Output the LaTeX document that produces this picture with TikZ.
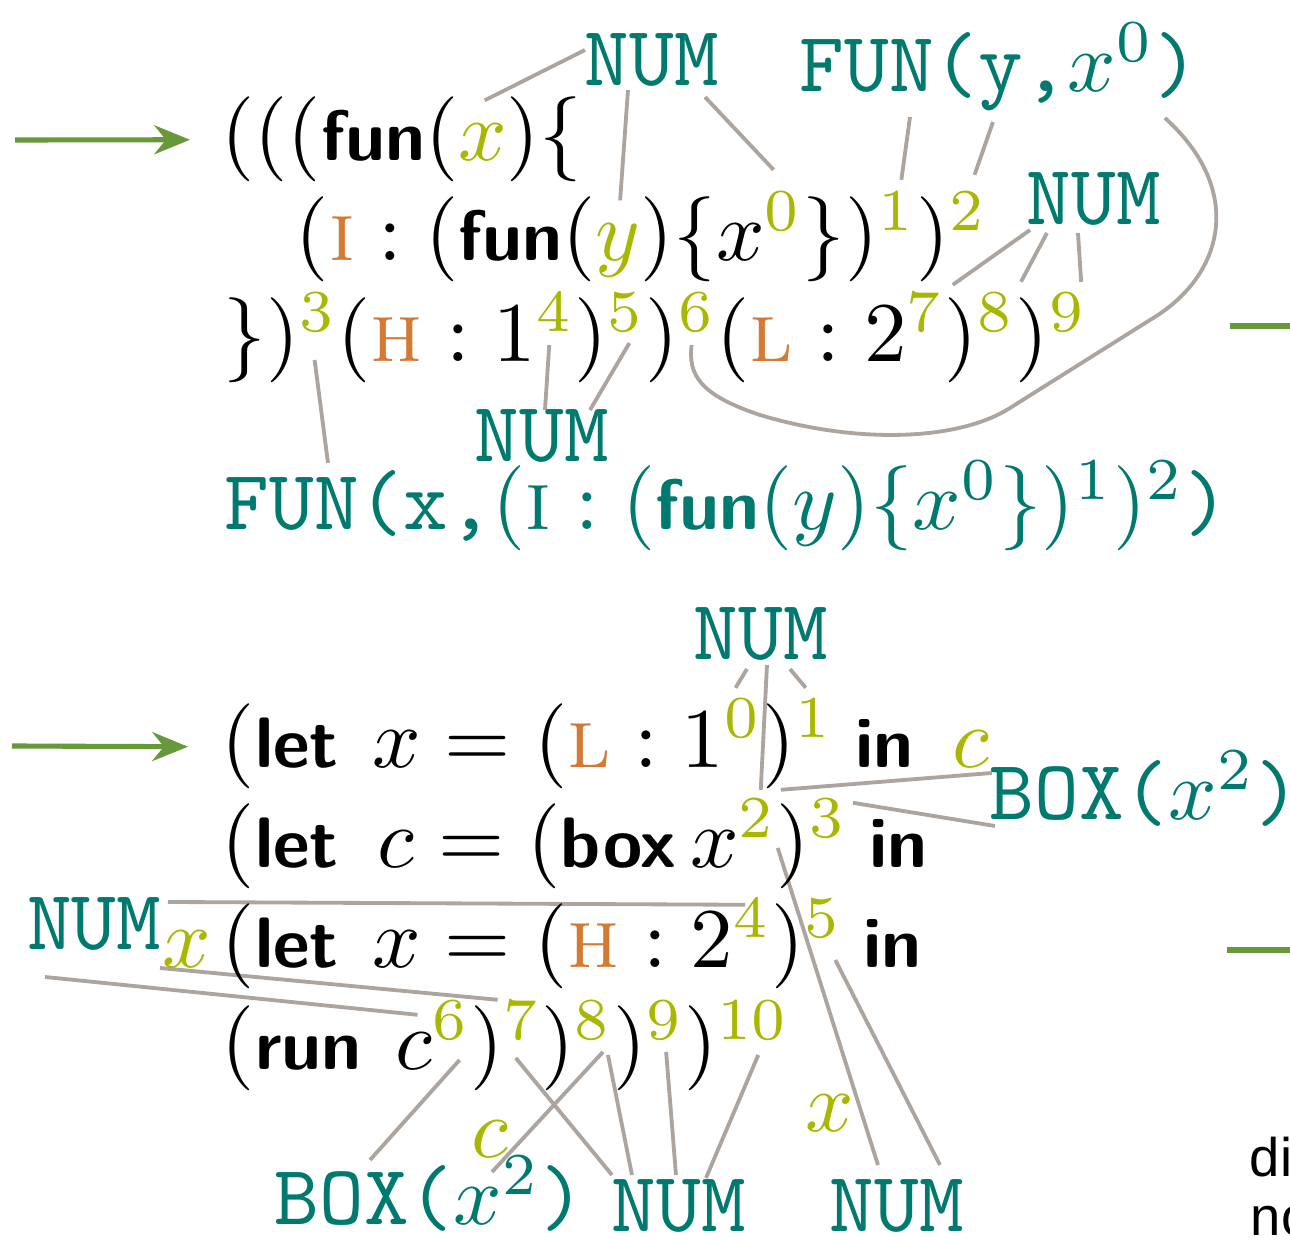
\documentclass[tikz,border=0pt]{standalone}
\usepackage{amsmath}
\usepackage{fontspec}
\newfontfamily\notefont{Liberation Sans}
\usetikzlibrary{arrows.meta,calc}

\definecolor{tl}{RGB}{0,121,110}
\definecolor{olv}{RGB}{168,184,0}
\definecolor{org}{RGB}{212,122,52}
\definecolor{lnk}{RGB}{172,164,159}
\definecolor{grn}{RGB}{103,152,58}

% keyword, small-caps label and coloured label helpers
\newcommand\kw[1]{\mbox{\fontsize{8.4pt}{10pt}\selectfont\sffamily\bfseries #1}}
\newcommand\smc[1]{\mbox{\rmfamily\mdseries\scshape #1}}
\newcommand\org[1]{\textcolor{org}{\smc{#1}}}

\pgfdeclarelayer{links}
\pgfsetlayers{links,main}

\begin{document}
\begin{tikzpicture}[x=0.11765pt,y=-0.11765pt,
  tok/.style={anchor=base west,inner sep=0pt,outer sep=0pt},
  sup/.style={tok,text=olv},
  lbl/.style={tok,text=tl,font=\ttfamily},
  note/.style={tok,font={\notefont\fontsize{6.4pt}{8pt}\selectfont}},
  conn/.style={draw=lnk,line width=0.45pt},
  arr/.style={draw=grn,line width=0.6pt,-{Stealth[length=4.2pt,width=3.4pt]}}]
\useasboundingbox (0,0) rectangle (1290,1242);
\clip (0,0) rectangle (1290,1242);

% ---------- first term ----------
\node[tok] (l1a) at (222,161) {$(((\kw{fun}($};
\node[tok,text=olv] (l1x) at (l1a.base east) {$x$};
\node[tok] (l1b) at (l1x.base east) {$)\{$};

\node[tok] (l2a) at (296,261) {$(\org{i} : (\kw{fun}($};
\node[tok,text=olv] (l2y) at (l2a.base east) {$y$};
\node[tok] (l2b) at (l2y.base east) {$)\{x$};
\node[sup] (l2s0) at (l2b.base east) {${}^{0}$};
\node[tok] (l2c) at (l2s0.base east) {$\})$};
\node[sup] (l2s1) at (l2c.base east) {${}^{1}$};
\node[tok] (l2d) at (l2s1.base east) {$)$};
\node[sup] (l2s2) at (l2d.base east) {${}^{2}$};

\node[tok] (l3a) at (224,362) {$\})$};
\node[sup] (l3s3) at (l3a.base east) {${}^{3}$};
\node[tok] (l3b) at (l3s3.base east) {$(\org{h} : 1$};
\node[sup] (l3s4) at (l3b.base east) {${}^{4}$};
\node[tok] (l3c) at (l3s4.base east) {$)$};
\node[sup] (l3s5) at (l3c.base east) {${}^{5}$};
\node[tok] (l3d) at (l3s5.base east) {$)$};
\node[sup] (l3s6) at (l3d.base east) {${}^{6}$};
\node[tok] (l3e) at (l3s6.base east) {$(\org{l} : 2$};
\node[sup] (l3s7) at (l3e.base east) {${}^{7}$};
\node[tok] (l3f) at (l3s7.base east) {$)$};
\node[sup] (l3s8) at (l3f.base east) {${}^{8}$};
\node[tok] (l3g) at (l3s8.base east) {$)$};
\node[sup] (l3s9) at (l3g.base east) {${}^{9}$};

\node[lbl] (numA) at (585,85) {NUM};
\node[lbl] (funA) at (800,92) {FUN(y,$x^{0}$)};
\node[lbl] (numR) at (1027,225) {NUM};
\node[lbl] (numC) at (475,462) {NUM};
\node[lbl] (funB) at (225,530) {FUN(x,$(\smc{i} : (\kw{fun}(y)\{x^{0}\})^{1})^{2}$)};

% ---------- second term ----------
\node[tok] (lAa) at (222,768) {$(\kw{let}\hspace{4pt}x = (\org{l} : 1$};
\node[sup] (lAs0) at (lAa.base east) {${}^{0}$};
\node[tok] (lAb) at (lAs0.base east) {$)$};
\node[sup] (lAs1) at (lAb.base east) {${}^{1}$};
\node[tok] (lAin) at (lAs1.base east) {\hspace{2.5pt}\kw{in}};
\node[tok,text=olv] (cA) at (953,768) {$c$};

\node[tok] (lBa) at (222,868) {$(\kw{let}\hspace{4.6pt}c = (\kw{box}\,x$};
\node[sup] (lBs2) at (lBa.base east) {${}^{2}$};
\node[tok] (lBb) at (lBs2.base east) {$)$};
\node[sup] (lBs3) at (lBb.base east) {${}^{3}$};
\node[tok] (lBin) at (lBs3.base east) {\hspace{2.5pt}\kw{in}};

\node[tok,text=olv] (lcx) at (163,968) {$x$};
\node[tok] (lCa) at (222,968) {$(\kw{let}\hspace{4pt}x = (\org{h} : 2$};
\node[sup] (lCs4) at (lCa.base east) {${}^{4}$};
\node[tok] (lCb) at (lCs4.base east) {$)$};
\node[sup] (lCs5) at (lCb.base east) {${}^{5}$};
\node[tok] (lCin) at (lCs5.base east) {\hspace{2.5pt}\kw{in}};

\node[tok] (lDa) at (222,1070) {$(\kw{run}\hspace{4pt}c$};
\node[sup] (lDs6) at (lDa.base east) {${}^{6}$};
\node[tok] (lDb) at (lDs6.base east) {$)$};
\node[sup] (lDs7) at (lDb.base east) {${}^{7}$};
\node[tok] (lDc) at (lDs7.base east) {$)$};
\node[sup] (lDs8) at (lDc.base east) {${}^{8}$};
\node[tok] (lDd) at (lDs8.base east) {$)$};
\node[sup] (lDs9) at (lDd.base east) {${}^{9}$};
\node[tok] (lDe) at (lDs9.base east) {$)$};
\node[sup] (lDs10) at (lDe.base east) {${}^{10}$};

\node[lbl] (nB1) at (694,660) {NUM};
\node[lbl] (box1) at (990,820) {BOX($x^{2}$)};
\node[lbl] (nL) at (27,950) {NUM};
\node[lbl] (box2) at (275,1225) {BOX($x^{2}$)};
\node[lbl] (nM) at (612,1232) {NUM};
\node[lbl] (nR) at (830,1232) {NUM};
\node[tok,text=olv] (cB) at (472,1158) {$c$};
\node[tok,text=olv] (xB) at (806,1132) {$x$};

% side notes running off the right edge
\node[note] (nt1) at (1250,1177) {di};
\node[note] (nt2) at (1251,1236) {no};

% ---------- entry arrows ----------
\coordinate (inA) at (15,140);
\draw[arr] (inA) -- ($(l1a.west)+(-32,0)$);
\coordinate (inB) at (12,746);
\draw[arr] (inB) -- ($(lAa.west)+(-34,0)$);
\coordinate (gA) at (1230,326);
\draw[draw=grn,line width=0.6pt] (gA) -- ++(80,0);
\coordinate (gB) at (1227,950);
\draw[draw=grn,line width=0.6pt] (gB) -- ++(80,0);

% ---------- links ----------
\begin{pgfonlayer}{links}
\draw[conn] ($(numA.base west)+(0,-35)$) -- ($(l1x.north)+(2,-24)$);
\draw[conn] ($(numA.base west)+(43,5)$) -- ($(l2y.north)+(2,-24)$);
\draw[conn] ($(numA.base west)+(120,12)$) -- ($(l2s0.north west)+(9,-22)$);
\draw[conn] ($(funA.base west)+(110,25)$) -- ($(l2s1.north)+(4,-12)$);
\draw[conn] ($(funA.base west)+(193,30)$) -- ($(l2s2.north)+(6,-17)$);
\draw[conn] ($(funA.base west)+(365,26)$) .. controls (1245,190) and (1225,276) .. (1150,320)
  -- (1010,408) .. controls (960,440) and (860,445) .. (760,415)
  .. controls (700,395) and (688,375) .. ($(l3s6.south)+(-6,-17)$);
\draw[conn] ($(numR.base west)+(3,5)$) -- ($(l3s7.north east)+(8,-8)$);
\draw[conn] ($(numR.base west)+(20,8)$) -- ($(l3s8.north east)+(5,-11)$);
\draw[conn] ($(numR.base west)+(51,8)$) -- ($(l3s9.north east)+(-6,-11)$);
\draw[conn] ($(l3s3.south)+(-4,-2)$) -- ($(funB.base west)+(103,-67)$);
\draw[conn] ($(l3s4.south)+(-6,-17)$) -- ($(numC.base west)+(70,-52)$);
\draw[conn] ($(l3s5.south)+(3,-19)$) -- ($(numC.base west)+(115,-52)$);

\draw[conn] ($(nB1.base west)+(53,9)$) -- ($(lAs0.north west)+(11,-11)$);
\draw[conn] ($(nB1.base west)+(96,9)$) -- ($(lAs1.north west)+(10,-11)$);
\draw[conn] ($(nB1.base west)+(73,5)$) -- ($(lBs2.north)+(3,-9)$);
\draw[conn] ($(box1.base west)+(2,-47)$) -- ($(lBs2.north east)+(4,-9)$);
\draw[conn] ($(box1.base west)+(5,6)$) -- ($(lBs3.north east)+(5,4)$);
\draw[conn] ($(lBs2.south)+(20,-20)$) -- ($(nR.base west)+(48,-67)$);
\draw[conn] ($(lCs5.south)+(12,-8)$) -- ($(nR.base west)+(110,-67)$);
\draw[conn] ($(nL.base west)+(141,-48)$) -- ($(lCs4.north)+(-7,6)$);
\draw[conn] ($(nL.base west)+(18,27)$) -- ($(lDs6.north west)+(-15,14)$);
\draw[conn] ($(lcx.base west)+(-3,0)$) -- ($(lDs7.north west)+(-6,-1)$);
\draw[conn] ($(lDs6.south)+(8,-10)$) -- ($(box2.base west)+(95,-65)$);
\draw[conn] ($(lDs7.south)+(-7,-12)$) -- ($(nM.base west)+(0,-57)$);
\draw[conn] ($(lDs8.south)+(9,-18)$) -- ($(box2.base west)+(217,-53)$);
\draw[conn] ($(lDs8.south)+(14,-15)$) -- ($(nM.base west)+(20,-57)$);
\draw[conn] ($(lDs9.south)+(1,-18)$) -- ($(nM.base west)+(64,-57)$);
\draw[conn] ($(lDs10.south)+(5,-15)$) -- ($(nM.base west)+(94,-54)$);
\end{pgfonlayer}
\end{tikzpicture}
\end{document}
